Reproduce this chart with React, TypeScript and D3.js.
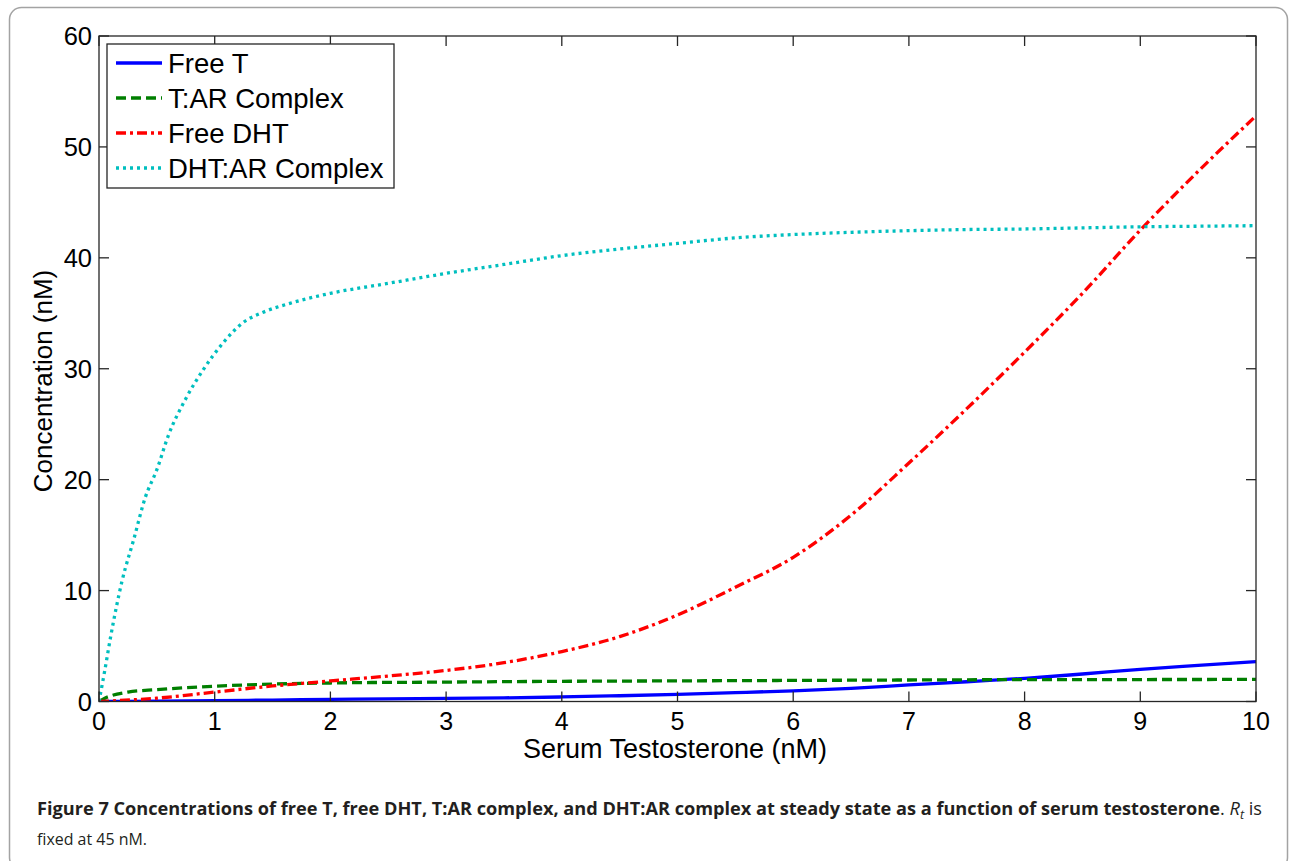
import React from "react";
import * as d3 from "d3";

// Serum testosterone (nM) sample points for each curve
const freeTX = [0, 0.5, 1, 1.5, 2, 2.5, 3, 3.5, 4, 4.5, 5, 5.5, 6, 6.5, 7, 7.5, 8, 8.5, 9, 9.5, 10];
const freeTY = [0, 0.04, 0.08, 0.13, 0.19, 0.24, 0.28, 0.33, 0.41, 0.52, 0.65, 0.8, 0.96, 1.18, 1.49, 1.78, 2.09, 2.48, 2.9, 3.25, 3.59];

const tarX = [0, 0.05, 0.1, 0.25, 0.5, 1, 1.5, 2, 3, 4, 5, 6, 7, 8, 9, 10];
const tarY = [0, 0.3, 0.5, 0.85, 1.07, 1.38, 1.57, 1.67, 1.75, 1.82, 1.86, 1.9, 1.94, 1.97, 1.98, 1.99];

const freeDhtX = [0, 0.5, 1, 1.5, 2, 2.5, 3, 3.5, 4, 4.5, 5, 5.5, 6, 6.5, 7, 7.5, 8, 8.5, 9, 9.5, 10];
const freeDhtY = [0, 0.3, 0.85, 1.4, 1.85, 2.3, 2.8, 3.5, 4.5, 5.85, 7.8, 10.3, 13.0, 16.8, 21.5, 26.4, 31.5, 36.8, 42.5, 47.8, 52.8];

const dhtArX = [0, 0.05, 0.1, 0.2, 0.3, 0.4, 0.5, 0.6, 0.75, 0.9, 1.07, 1.25, 1.42, 1.65, 2, 2.5, 3, 3.5, 4, 4.5, 5, 5.5, 6, 6.5, 7, 7.5, 8, 8.5, 9, 9.5, 10];
const dhtArY = [0, 2.8, 5.8, 10.9, 14.6, 18.4, 20.9, 24.0, 27.3, 29.9, 32.3, 34.2, 35.1, 35.9, 36.8, 37.7, 38.6, 39.4, 40.2, 40.8, 41.3, 41.8, 42.1, 42.3, 42.45, 42.55, 42.6, 42.7, 42.8, 42.85, 42.9];

const seriesNames = ["Free T", "T:AR Complex", "Free DHT", "DHT:AR Complex"];
const seriesColors = ["#0000ff", "#007f00", "#ff0000", "#00bfbf"];
const seriesDash = [null, "10,5", "10,4,3,4", "3,4"];

const xTicks = [0, 1, 2, 3, 4, 5, 6, 7, 8, 9, 10];
const yTicks = [0, 10, 20, 30, 40, 50, 60];

const W = 1292;
const H = 861;
const left = 99;
const right = 1256;
const top = 36;
const bottom = 701.5;

export default function App() {
  const x = d3.scaleLinear().domain([0, 10]).range([left, right]);
  const y = d3.scaleLinear().domain([0, 60]).range([bottom, top]);

  const line = d3
    .line<[number, number]>()
    .x((d) => x(d[0]))
    .y((d) => y(d[1]))
    .curve(d3.curveMonotoneX);

  const zip = (xs: number[], ys: number[]) => xs.map((v, i) => [v, ys[i]] as [number, number]);
  const data = [zip(freeTX, freeTY), zip(tarX, tarY), zip(freeDhtX, freeDhtY), zip(dhtArX, dhtArY)];

  const axisColor = "#262626";
  const tickLen = 10;
  const font = "Arial, 'Liberation Sans', sans-serif";

  return (
    <svg
      width={W}
      height={H}
      viewBox={`0 0 ${W} ${H}`}
      style={{ position: "absolute", left: 0, top: 0, background: "#fff" }}
    >
      <rect x={0} y={0} width={W} height={H} fill="#fff" />
      {/* rounded figure frame */}
      <rect x={9.5} y={7.5} width={1278} height={862} rx={12} ry={12} fill="none" stroke="#a3a3a3" strokeWidth={1.5} />

      <defs>
        <clipPath id="plotClip">
          <rect x={left} y={top} width={right - left} height={bottom - top} />
        </clipPath>
      </defs>

      {/* curves */}
      <g clipPath="url(#plotClip)">
        {data.map((d, i) => (
          <path
            key={i}
            d={line(d) || ""}
            fill="none"
            stroke={seriesColors[i]}
            strokeWidth={3.3}
            strokeDasharray={seriesDash[i] || undefined}
            strokeLinejoin="round"
          />
        ))}
      </g>

      {/* axes box */}
      <rect x={left} y={top} width={right - left} height={bottom - top} fill="none" stroke={axisColor} strokeWidth={1.3} />

      {/* x ticks */}
      {xTicks.map((t) => (
        <g key={"x" + t}>
          <line x1={x(t)} x2={x(t)} y1={bottom} y2={bottom - tickLen} stroke={axisColor} strokeWidth={1.3} />
          <line x1={x(t)} x2={x(t)} y1={top} y2={top + tickLen} stroke={axisColor} strokeWidth={1.3} />
          <text x={x(t)} y={bottom + 28} textAnchor="middle" fontFamily={font} fontSize={25} fill="#000">
            {t}
          </text>
        </g>
      ))}

      {/* y ticks */}
      {yTicks.map((t) => (
        <g key={"y" + t}>
          <line x1={left} x2={left + tickLen} y1={y(t)} y2={y(t)} stroke={axisColor} strokeWidth={1.3} />
          <line x1={right} x2={right - tickLen} y1={y(t)} y2={y(t)} stroke={axisColor} strokeWidth={1.3} />
          <text x={left - 7} y={y(t) + 9} textAnchor="end" fontFamily={font} fontSize={25.5} fill="#000">
            {t}
          </text>
        </g>
      ))}

      {/* axis titles */}
      <text x={675} y={758} textAnchor="middle" fontFamily={font} fontSize={27} fill="#000">
        Serum Testosterone (nM)
      </text>
      <text
        transform={`translate(52, 381) rotate(-90)`}
        textAnchor="middle"
        fontFamily={font}
        fontSize={26}
        fill="#000"
      >
        Concentration (nM)
      </text>

      {/* legend */}
      <rect x={107} y={44} width={287} height={144} fill="#fff" stroke={axisColor} strokeWidth={1.3} />
      {seriesNames.map((name, i) => {
        const cy = 63 + i * 35;
        return (
          <g key={name}>
            <line
              x1={116}
              x2={162}
              y1={cy}
              y2={cy}
              stroke={seriesColors[i]}
              strokeWidth={3.3}
              strokeDasharray={seriesDash[i] || undefined}
            />
            <text x={168} y={cy + 10} fontFamily={font} fontSize={27.5} fill="#000">
              {name}
            </text>
          </g>
        );
      })}

      {/* caption */}
      <text
        x={37}
        y={815}
        fontFamily="'Open Sans', 'Noto Sans', sans-serif"
        fontSize={17.5}
        fill="#231f20"
        textLength={1225}
        lengthAdjust="spacingAndGlyphs"
      >
        <tspan fontWeight="bold">
          Figure 7 Concentrations of free T, free DHT, T:AR complex, and DHT:AR complex at steady state as a function of serum testosterone
        </tspan>
        <tspan>. </tspan>
        <tspan fontStyle="italic">R</tspan>
        <tspan fontStyle="italic" fontSize={12} dy={4}>
          t
        </tspan>
        <tspan dy={-4}> is</tspan>
      </text>
      <text
        x={37}
        y={845}
        fontFamily="'Open Sans', 'Noto Sans', sans-serif"
        fontSize={17}
        fill="#231f20"
        textLength={110}
        lengthAdjust="spacingAndGlyphs"
      >
        fixed at 45 nM.
      </text>
    </svg>
  );
}
